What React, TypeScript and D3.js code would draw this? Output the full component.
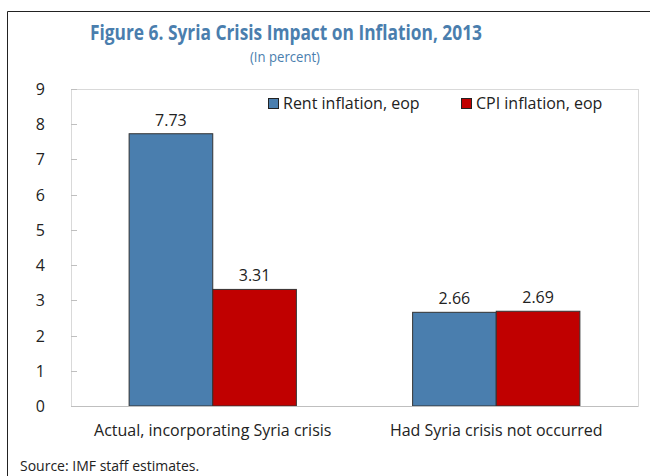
import React from "react";
import * as d3 from "d3";

const categories = ["Actual, incorporating Syria crisis", "Had Syria crisis not occurred"];
const seriesNames = ["Rent inflation, eop", "CPI inflation, eop"];
const rentValues = [7.73, 2.66];
const cpiValues = [3.31, 2.69];
const yTicks = [0, 1, 2, 3, 4, 5, 6, 7, 8, 9];
const colors = ["#4a7eae", "#c00000"];

export default function App() {
  const W = 650, H = 476;
  const left = 71, right = 638, top = 89, bottom = 406;
  const font = "'Segoe UI', 'Open Sans', sans-serif";
  const y = d3.scaleLinear().domain([0, 9]).range([bottom, top]);
  const x0 = d3.scaleBand<string>().domain(categories).range([left, right]).paddingInner(0.41).paddingOuter(0.205);
  const x1 = d3.scaleBand<string>().domain(seriesNames).range([0, x0.bandwidth()]).padding(0);
  const series = [rentValues, cpiValues];

  const legendPos = [268, 461];

  return (
    <svg width={W} height={H} style={{ position: "absolute", left: 0, top: 0 }} fontFamily={font}>
      <rect x={0} y={0} width={W} height={H} fill="#fff" />
      <line x1={7.5} y1={11.5} x2={W} y2={11.5} stroke="#222" strokeWidth={1} />
      <line x1={7.5} y1={11.5} x2={7.5} y2={H} stroke="#222" strokeWidth={1} />
      <text x={90} y={40} textLength={392} lengthAdjust="spacingAndGlyphs" fontSize={20.5} fontWeight="bold" fill="#4a7eae">
        Figure 6. Syria Crisis Impact on Inflation, 2013
      </text>
      <text x={250} y={62} textLength={70} lengthAdjust="spacingAndGlyphs" fontSize={15} fill="#4a7eae">(In percent)</text>
      <rect x={left + 0.5} y={top + 0.5} width={right - left} height={bottom - top} fill="none" stroke="#d9d9d9" />
      {yTicks.map((t) => (
        <g key={t}>
          <line x1={left} x2={left + 6} y1={Math.round(y(t)) + 0.5} y2={Math.round(y(t)) + 0.5} stroke="#bfbfbf" />
          <text x={45} y={y(t) + 6} textAnchor="end" fontSize={16} fill="#222">{t}</text>
        </g>
      ))}
      {categories.map((c, i) => (
        <g key={c}>
          {seriesNames.map((s, j) => {
            const v = series[j][i];
            const bx = (x0(c) as number) + (x1(s) as number);
            return (
              <g key={s}>
                <rect x={bx} y={y(v)} width={x1.bandwidth()} height={y(0) - y(v)} fill={colors[j]} stroke="#333" strokeWidth={1} />
                <text x={bx + x1.bandwidth() / 2} y={y(v) - 8} textAnchor="middle" fontSize={16} fill="#222">
                  {v.toFixed(2)}
                </text>
              </g>
            );
          })}
          <text x={(x0(c) as number) + x0.bandwidth() / 2} y={436} textAnchor="middle" fontSize={16} fill="#222">
            {c}
          </text>
        </g>
      ))}
      {seriesNames.map((s, j) => (
        <g key={s}>
          <rect x={legendPos[j] + 0.5} y={98.5} width={10} height={10} fill={colors[j]} stroke="#222" />
          <text x={legendPos[j] + 15} y={109} fontSize={16} fill="#222">{s}</text>
        </g>
      ))}
      <text x={20} y={471} fontSize={14} fill="#222">Source: IMF staff estimates.</text>
      <line x1={left} x2={right} y1={bottom + 0.5} y2={bottom + 0.5} stroke="#bfbfbf" />
    </svg>
  );
}
